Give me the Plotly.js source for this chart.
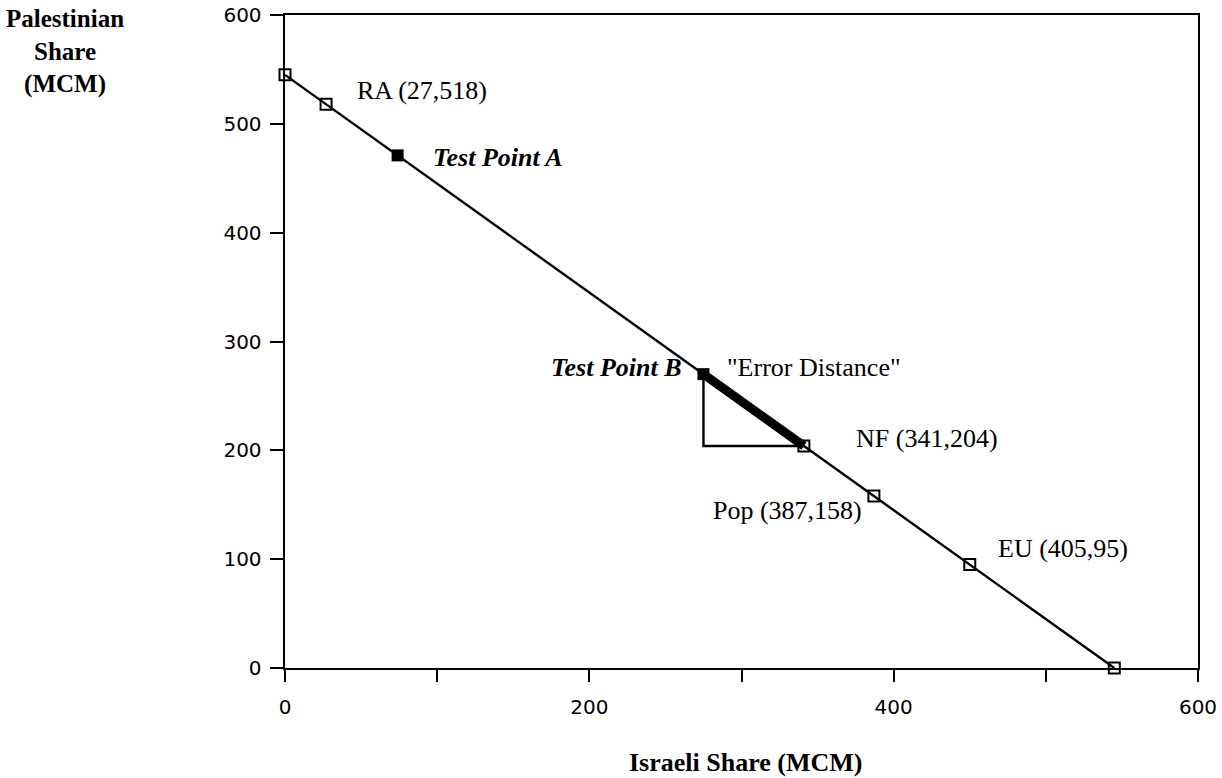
<!DOCTYPE html>
<html>
<head>
<meta charset="utf-8">
<script src="https://cdn.plot.ly/plotly-3.0.1.min.js"></script>
<style>html,body{margin:0;padding:0;background:#fff;}#chart{width:1222px;height:778px;}</style>
</head>
<body>
<div id="chart"></div>
<script>
// Frontier line endpoints (Israeli share, Palestinian share), MCM
const frontierX = [0, 545];
const frontierY = [545, 0];

// Allocation points (open squares)
const allocNames = ['Endpoint', 'RA', 'NF', 'Pop', 'EU', 'Endpoint'];
const allocX = [0, 27, 341, 387, 450, 545];
const allocY = [545, 518, 204, 158, 95, 0];

// Test points (filled squares)
const testNames = ['Test Point A', 'Test Point B'];
const testX = [74, 275];
const testY = [471, 270];

// Error-distance triangle: Test Point B -> corner -> NF
const triX = [275, 275, 341];
const triY = [270, 204, 204];
// Error distance segment: Test Point B -> NF
const errX = [275, 341];
const errY = [270, 204];

// Point label texts and positions
const labelTexts = ['RA (27,518)', 'NF (341,204)', 'Pop (387,158)', 'EU (405,95)', '"Error Distance"'];
const labelX = [46, 374, 280, 467, 289];
const labelY = [531, 211, 145, 110, 276];

// Axis ticks
const xTickVals = [0, 100, 200, 300, 400, 500, 600];
const xTickText = ['0', '', '200', '', '400', '', '600'];
const yTickVals = [0, 100, 200, 300, 400, 500, 600];

const serif = 'Liberation Serif, Times New Roman, serif';
const sans = 'DejaVu Sans, sans-serif';

const traces = [
  {x: frontierX, y: frontierY, mode: 'lines', line: {color: '#000', width: 2.4}, hoverinfo: 'skip'},
  {x: triX, y: triY, mode: 'lines', line: {color: '#000', width: 2.4}, hoverinfo: 'skip'},
  {x: errX, y: errY, mode: 'lines', line: {color: '#000', width: 9}, hoverinfo: 'skip'},
  {x: allocX, y: allocY, text: allocNames, mode: 'markers', cliponaxis: false,
   marker: {symbol: 'square-open', size: 11, color: '#000', line: {width: 2, color: '#000'}}},
  {x: testX, y: testY, text: testNames, mode: 'markers', cliponaxis: false,
   marker: {symbol: 'square', size: 12, color: '#000'}}
];

const W = 1222, H = 778, mL = 285, mR = 24, mT = 15, mB = 110;
const pw = W - mL - mR, ph = H - mT - mB;

const annotations = labelTexts.map((t, i) => ({
  x: labelX[i], y: labelY[i], xref: 'x', yref: 'y', text: t, showarrow: false,
  xanchor: 'left', yanchor: 'middle', font: {family: serif, size: 26, color: '#000'}
}));
annotations.push({x: 96, y: 469, xref: 'x', yref: 'y', text: '<b><i>' + testNames[0] + '</i></b>',
  showarrow: false, xanchor: 'left', yanchor: 'middle', font: {family: serif, size: 26, color: '#000'}});
annotations.push({x: 262, y: 276, xref: 'x', yref: 'y', text: '<b><i>' + testNames[1] + '</i></b>',
  showarrow: false, xanchor: 'right', yanchor: 'middle', font: {family: serif, size: 26, color: '#000'}});
annotations.push({x: (65 - mL) / pw, y: (H - mB - 52) / ph, xref: 'paper', yref: 'paper',
  text: '<b>Palestinian<br>Share<br>(MCM)</b>',
  showarrow: false, xanchor: 'center', yanchor: 'middle', align: 'center',
  font: {family: serif, size: 25, color: '#000'}});
annotations.push({x: (745 - mL) / pw, y: (H - mB - 762) / ph, xref: 'paper', yref: 'paper',
  text: '<b>Israeli Share (MCM)</b>', showarrow: false,
  xanchor: 'center', yanchor: 'middle', font: {family: serif, size: 26, color: '#000'}});

const layout = {
  width: W, height: H,
  margin: {l: mL, r: mR, t: mT, b: mB},
  paper_bgcolor: '#fff', plot_bgcolor: '#fff',
  showlegend: false,
  xaxis: {range: [0, 600], tickvals: xTickVals, ticktext: xTickText, ticks: 'outside', ticklen: 12,
    tickwidth: 2, tickcolor: '#000', showline: true, linecolor: '#000', linewidth: 2.4, mirror: true,
    showgrid: false, zeroline: false, fixedrange: true, ticklabelstandoff: 8,
    tickfont: {family: sans, size: 20, color: '#000'}},
  yaxis: {range: [0, 600], tickvals: yTickVals, ticks: 'outside', ticklen: 13,
    tickwidth: 2, tickcolor: '#000', showline: true, linecolor: '#000', linewidth: 2.4, mirror: true,
    showgrid: false, zeroline: false, fixedrange: true, ticklabelstandoff: 4,
    tickfont: {family: sans, size: 20, color: '#000'}},
  annotations: annotations
};

Plotly.newPlot('chart', traces, layout, {displayModeBar: false, staticPlot: true});
</script>
</body>
</html>
